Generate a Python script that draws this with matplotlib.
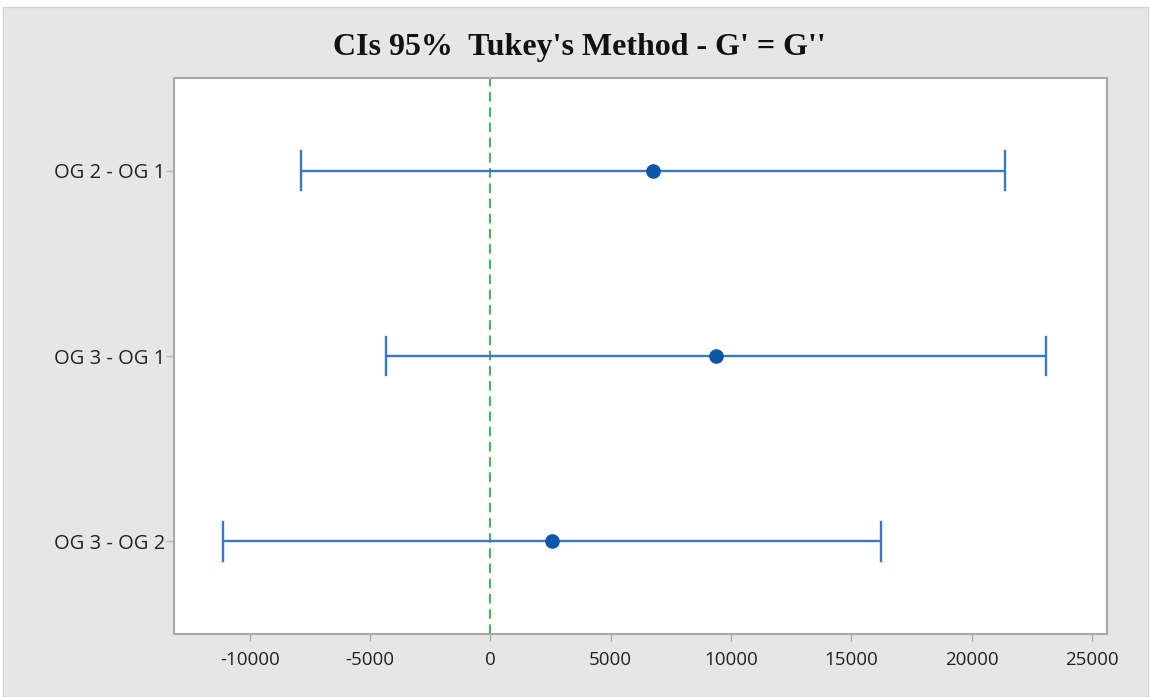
import matplotlib
matplotlib.use("Agg")
import matplotlib.pyplot as plt
from matplotlib.patches import Rectangle

comparisons = ["OG 2 - OG 1", "OG 3 - OG 1", "OG 3 - OG 2"]
centers = [6760, 9375, 2560]
lowers = [-7880, -4335, -11122]
uppers = [21405, 23084, 16239]
xticks = [-10000, -5000, 0, 5000, 10000, 15000, 20000, 25000]
title = "CIs 95%  Tukey's Method - G' = G''"

W, H = 1151, 697
fig = plt.figure(figsize=(W / 100, H / 100), dpi=100)
fig.patch.set_facecolor("white")
fig.patches.append(Rectangle((3 / W, 0), 1 - 6 / W, 1 - 7 / H, transform=fig.transFigure,
                             facecolor="#e6e6e6", edgecolor="#d4d4d4", linewidth=1.0, zorder=-10))

ax = fig.add_axes([174 / W, 1 - 634 / H, (1107 - 174) / W, (634 - 78) / H])
ax.set_facecolor("white")

ypos = [3, 2, 1]
line_col = "#3a78c4"
for y, c, lo, hi in zip(ypos, centers, lowers, uppers):
    ax.plot([lo, hi], [y, y], color=line_col, linewidth=1.7, solid_capstyle="butt", zorder=2)
    for xe in (lo, hi):
        ax.plot([xe, xe], [y - 0.105, y + 0.105], color=line_col, linewidth=1.7, zorder=2)
    ax.plot([c], [y], marker="o", markersize=9.5, color="#0a56a8", zorder=3, linestyle="none")

ax.axvline(0, color="#45b65a", linestyle=(0, (4.6, 2.7)), linewidth=1.5, zorder=1)

ax.set_xlim(-13146, 25631)
ax.set_ylim(0.5, 3.5)
ax.set_xticks(xticks)
ax.set_xticklabels([str(t) for t in xticks], fontfamily="Open Sans", fontsize=13.5, color="#222222")
ax.set_yticks(ypos)
ax.set_yticklabels(comparisons, fontfamily="Open Sans", fontsize=14.5, color="#222222")
ax.tick_params(axis="x", direction="out", length=5, width=1, color="#a8a8a8", pad=7)
ax.tick_params(axis="y", direction="out", length=6, width=1, color="#b8b8b8", pad=0.5)

for s in ax.spines.values():
    s.set_color("#a8a8a8")
    s.set_linewidth(1.5)

fig.text(579 / W, 1 - 48 / H, title, ha="center", va="center",
         fontfamily="Liberation Serif", fontweight="bold", fontsize=23, color="#111111")

fig.savefig("out.png", dpi=100, facecolor=fig.get_facecolor())
